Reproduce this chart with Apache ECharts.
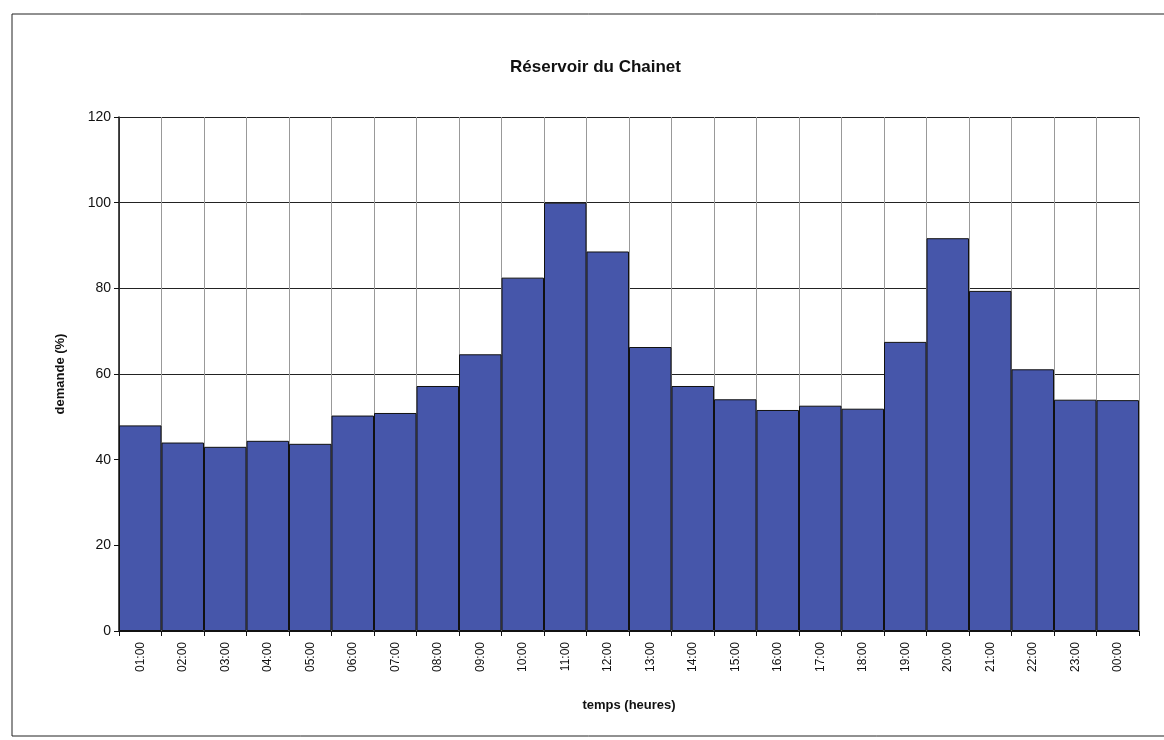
<!DOCTYPE html>
<html><head><meta charset="utf-8">
<script src="https://cdn.jsdelivr.net/npm/echarts@6/dist/echarts.min.js"></script>
<style>html,body{margin:0;padding:0;background:#fff}#c{width:1164px;height:740px}</style>
</head><body><div id="c"></div>
<script>
const categories = ['01:00','02:00','03:00','04:00','05:00','06:00','07:00','08:00','09:00','10:00','11:00','12:00','13:00','14:00','15:00','16:00','17:00','18:00','19:00','20:00','21:00','22:00','23:00','00:00'];
const demande = [48.0,44.0,43.0,44.4,43.7,50.3,50.9,57.2,64.6,82.5,100.0,88.6,66.3,57.2,54.1,51.6,52.6,51.9,67.5,91.7,79.4,61.1,54.0,53.9];
const yTicks = [0,20,40,60,80,100,120];

const chart = echarts.init(document.getElementById('c'));
chart.setOption({
  animation:false,
  backgroundColor:'#fff',
  title:{text:'Réservoir du Chainet',left:505,top:54,
    textStyle:{fontFamily:'Liberation Sans, Arial',fontSize:17,fontWeight:'bold',color:'#111'}},
  graphic:[{type:'rect',shape:{x:12,y:14,width:1160,height:722},
    style:{fill:'none',stroke:'#222',lineWidth:1}}],
  grid:{left:119,right:25,top:117,bottom:109},
  xAxis:{type:'category',data:categories,
    name:'temps (heures)',nameLocation:'middle',nameGap:68,
    nameTextStyle:{fontFamily:'Liberation Sans, Arial',fontSize:13,fontWeight:'bold',color:'#111'},
    axisLine:{show:true,lineStyle:{color:'#111',width:1}},
    axisTick:{show:true,alignWithLabel:false,length:5,lineStyle:{color:'#111'}},
    splitLine:{show:true,lineStyle:{color:'#999',width:1}},
    axisLabel:{rotate:90,margin:11,fontFamily:'Liberation Sans, Arial',fontSize:12,color:'#111'}},
  yAxis:{type:'value',min:0,max:120,interval:20,
    name:'demande (%)',nameLocation:'middle',nameGap:52,
    nameTextStyle:{fontFamily:'Liberation Sans, Arial',fontSize:13,fontWeight:'bold',color:'#111'},
    axisLine:{show:true,lineStyle:{color:'#111',width:1.5}},
    axisTick:{show:true,inside:false,length:5,lineStyle:{color:'#111'}},
    splitLine:{show:true,lineStyle:{color:'#222',width:1}},
    axisLabel:{margin:8,fontFamily:'Liberation Sans, Arial',fontSize:14,color:'#111',
      formatter:v=>yTicks.includes(v)?String(v):''}},
  series:[{type:'bar',data:demande,barCategoryGap:'0%',
    itemStyle:{color:'#4656aa',borderColor:'#111',borderWidth:1}}]
});
</script></body></html>
